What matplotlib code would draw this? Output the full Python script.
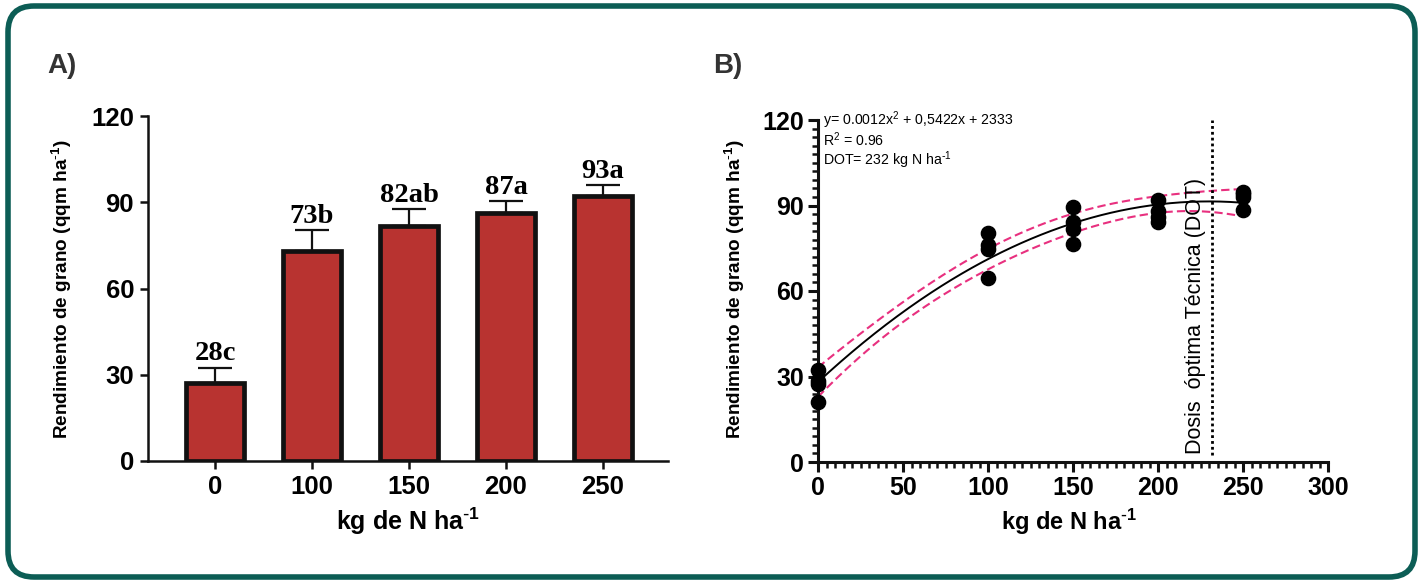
import numpy as np
import matplotlib
matplotlib.use("Agg")
import matplotlib.pyplot as plt
from matplotlib.patches import FancyBboxPatch
from matplotlib.transforms import IdentityTransform
from matplotlib.ticker import MultipleLocator

# ---------------- data ----------------
doses_A = ["0", "100", "150", "200", "250"]
yield_mean = [27.3, 73.2, 81.8, 86.4, 92.2]
yield_err = [5.2, 7.1, 5.8, 4.0, 3.7]
bar_labels = ["28c", "73b", "82ab", "87a", "93a"]

dose_B = [0, 0, 0, 0, 100, 100, 100, 100, 150, 150, 150, 150,
          200, 200, 200, 200, 250, 250, 250, 250]
yield_B = [32.3, 28.5, 27.5, 20.9, 80.3, 76.2, 74.7, 64.6, 89.3, 84.1, 81.7, 76.4,
           91.8, 88.2, 86.1, 84.1, 94.9, 94.1, 93.0, 88.5]
dot_dose = 232
eq_lines = ["y= 0.0012x$^2$ + 0,5422x + 2333", "R$^2$ = 0.96",
            "DOT= 232 kg N ha$^{\\text{-}1}$"]
yticks = [0, 30, 60, 90, 120]
xticks_B = [0, 50, 100, 150, 200, 250, 300]
xlabel_txt = "kg de N ha$^{\\text{-}1}$"
ylabel_txt = "Rendimiento de grano (qqm ha$^{\\text{-}1}$)"

plt.rcParams['font.family'] = ['Liberation Sans', 'DejaVu Sans']
plt.rcParams['mathtext.default'] = 'regular'

W, H = 1423, 583
fig = plt.figure(figsize=(W / 100, H / 100), dpi=100)
fig.patch.set_facecolor('white')

def fx(px):
    return px / W

def fy(py):
    return 1 - py / H

# border
border = FancyBboxPatch((8, 6), 1407, 571, boxstyle="round,pad=0,rounding_size=26",
                        transform=IdentityTransform(), facecolor='white',
                        edgecolor='#0c5d55', linewidth=4.0, zorder=-10)
fig.patches.append(border)

narrow = ['Liberation Sans Narrow', 'Liberation Sans', 'DejaVu Sans']

# ---------------- panel A ----------------
axA = fig.add_axes([fx(148), fy(461), fx(668) - fx(148), fy(116) - fy(461)])
xA = np.arange(len(doses_A))
axA.bar(xA, yield_mean, width=0.59, color='#b83330', edgecolor='#111111',
        linewidth=3.4, zorder=2)
axA.errorbar(xA, yield_mean, yerr=[np.zeros(len(xA)), yield_err], fmt='none',
             ecolor='#111111', elinewidth=1.6, capsize=12, capthick=1.6, zorder=1)
for xi, m, e, lab in zip(xA, yield_mean, yield_err, bar_labels):
    axA.text(xi, m + e + 0.4, lab, ha='center', va='bottom',
             family='Liberation Serif', weight='bold', size=20.5)
axA.set_xlim(-0.69, 4.67)
axA.set_ylim(0, 120)
axA.set_yticks(yticks)
axA.set_xticks(xA)
axA.set_xticklabels(doses_A)
for s in ['top', 'right']:
    axA.spines[s].set_visible(False)
for s in ['left', 'bottom']:
    axA.spines[s].set_linewidth(1.8)
    axA.spines[s].set_color('#111111')
axA.tick_params(axis='both', length=6, width=1.8, color='#111111', pad=4)
for lab in axA.get_xticklabels() + axA.get_yticklabels():
    lab.set_family(narrow)
    lab.set_weight('bold')
    lab.set_size(18.5)
fig.text(fx(408), fy(521), xlabel_txt, ha='center', va='center',
         family=narrow, weight='bold', size=18)
fig.text(fx(62), fy(289), ylabel_txt, rotation=90,
         ha='center', va='center', weight='bold', size=13.7)
fig.text(fx(47), fy(66), "A)", ha='left', va='center', weight='bold', size=20,
         color='#333333')

# ---------------- panel B ----------------
axB = fig.add_axes([fx(818), fy(462), fx(1328) - fx(818), fy(120) - fy(462)])
xd = np.array(dose_B, dtype=float)
yd = np.array(yield_B, dtype=float)
coef = np.polyfit(xd, yd, 2)
X = np.vstack([xd ** 2, xd, np.ones_like(xd)]).T
resid = yd - X @ coef
dof = len(xd) - 3
s2 = resid @ resid / dof
cov = s2 * np.linalg.inv(X.T @ X)
t_crit = 2.110  # t(0.975, 17)
xs = np.linspace(0, 250, 300)
Xs = np.vstack([xs ** 2, xs, np.ones_like(xs)]).T
ys = Xs @ coef
se = np.sqrt(np.einsum('ij,jk,ik->i', Xs, cov, Xs))
pink = '#e8307f'
axB.plot(xs, ys, color='black', lw=1.4, zorder=2)
axB.plot(xs, ys + t_crit * se, color=pink, lw=1.5, dashes=(4, 2), zorder=2)
axB.plot(xs, ys - t_crit * se, color=pink, lw=1.5, dashes=(4, 2), zorder=2)
axB.scatter(xd, yd, s=105, color='black', zorder=3, clip_on=False)
axB.plot([dot_dose, dot_dose], [2.5, 120], color='black', lw=2.0,
         linestyle=(0, (1, 1.1)), zorder=2)
axB.text(dot_dose - 3.5, 2.8, "Dosis  óptima Técnica (DOT)", rotation=90,
         ha='right', va='bottom', size=15.5)
axB.set_xlim(0, 300)
axB.set_ylim(0, 120)
axB.set_xticks(xticks_B)
axB.set_yticks(yticks)
axB.xaxis.set_minor_locator(MultipleLocator(5))
axB.yaxis.set_minor_locator(MultipleLocator(3))
for s in ['top', 'right']:
    axB.spines[s].set_visible(False)
for s in ['left', 'bottom']:
    axB.spines[s].set_linewidth(2.2)
    axB.spines[s].set_color('#111111')
axB.tick_params(axis='both', which='major', length=7, width=2.2, color='#111111', pad=3)
axB.tick_params(axis='both', which='minor', length=4.5, width=1.8, color='#111111')
for lab in axB.get_xticklabels() + axB.get_yticklabels():
    lab.set_weight('bold')
    lab.set_size(18)
for i, line in enumerate(eq_lines):
    fig.text(fx(823), fy(120 + 20 * i), line, ha='left', va='center', size=10.2)
fig.text(fx(1069), fy(522), xlabel_txt, ha='center', va='center',
         weight='bold', size=17)
fig.text(fx(735), fy(289), ylabel_txt, rotation=90,
         ha='center', va='center', weight='bold', size=13.7)
fig.text(fx(713), fy(66), "B)", ha='left', va='center', weight='bold', size=20,
         color='#333333')

fig.savefig("out.png", dpi=100)
